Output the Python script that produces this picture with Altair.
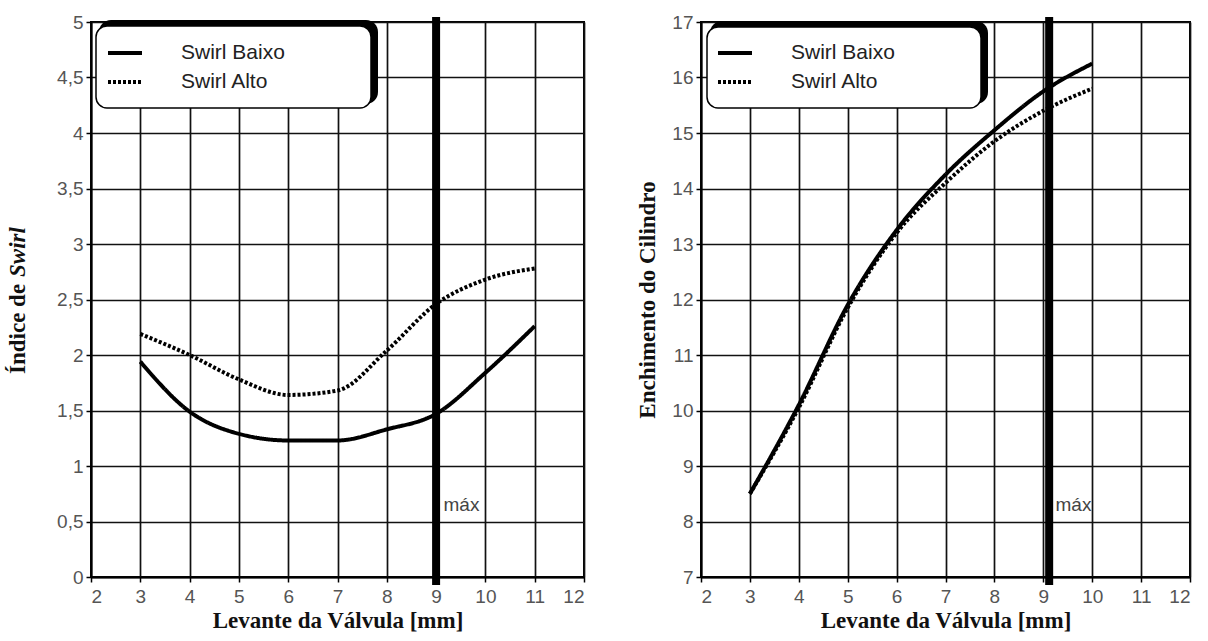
import altair as alt
import pandas as pd

# ---------------- data ----------------
series_names = ["Swirl Baixo", "Swirl Alto"]

lift_left = [3, 4, 5, 6, 7, 8, 9, 10, 11]
swirl_baixo = [1.94, 1.49, 1.29, 1.23, 1.23, 1.33, 1.47, 1.84, 2.26]
swirl_alto = [2.19, 2.00, 1.78, 1.64, 1.68, 2.04, 2.46, 2.68, 2.78]

lift_right = [3, 4, 5, 6, 7, 8, 9, 10]
ench_baixo = [8.5, 10.1, 11.9, 13.25, 14.25, 15.05, 15.75, 16.25]
ench_alto = [8.5, 10.05, 11.85, 13.2, 14.1, 14.85, 15.4, 15.8]

x_ticks = [2, 3, 4, 5, 6, 7, 8, 9, 10, 11, 12]
y_ticks_left = [0, 0.5, 1, 1.5, 2, 2.5, 3, 3.5, 4, 4.5, 5]
y_ticks_right = [7, 8, 9, 10, 11, 12, 13, 14, 15, 16, 17]

max_lift_left = [9.0]
max_lift_right = [9.12]
max_label = "máx"
max_label_left = [9.15, 0.65]
max_label_right = [9.25, 8.3]

x_title = "Levante da Válvula [mm]"
y_title_left_a = "Índice de"
y_title_left_b = "Swirl"
y_title_right = "Enchimento do Cilindro"

# ---------------- helpers ----------------
SERIF = "Liberation Serif"
SANS = "Liberation Sans"


def long_df(lift, a, b):
    rows = []
    for name, vals in zip(series_names, [a, b]):
        for x, v in zip(lift, vals):
            rows.append({"lift": x, "value": v, "serie": name})
    return pd.DataFrame(rows)


one = pd.DataFrame({"k": [0]})


def panel(df, ydom, yticks, ytitle, maxx, maxlab, W, H, box, shadow, comma, legx):
    xenc = alt.X(
        "lift:Q",
        scale=alt.Scale(domain=[2, 12], nice=False, zero=False),
        axis=alt.Axis(values=x_ticks, title=x_title, labelPadding=5, titlePadding=3,
                      format="d"),
    )
    yaxis_kw = dict(values=yticks, labelPadding=3)
    if comma:
        yaxis_kw["labelExpr"] = "replace(toString(datum.value), '.', ',')"
    if ytitle is None:
        yaxis_kw["title"] = None
    else:
        yaxis_kw["title"] = ytitle
        yaxis_kw["titlePadding"] = 12
    yenc = alt.Y(
        "value:Q",
        scale=alt.Scale(domain=ydom, nice=False, zero=False),
        axis=alt.Axis(**yaxis_kw),
    )

    shadow_rect = alt.Chart(one).mark_rect(cornerRadius=12, color="black").encode(
        x=alt.value(shadow[0]), x2=alt.value(shadow[1]),
        y=alt.value(shadow[2]), y2=alt.value(shadow[3]),
    )
    box_rect = alt.Chart(one).mark_rect(
        cornerRadius=11, fill="white", stroke="black", strokeWidth=1.5
    ).encode(
        x=alt.value(box[0]), x2=alt.value(box[1]),
        y=alt.value(box[2]), y2=alt.value(box[3]),
    )

    lines = alt.Chart(df).mark_line(
        interpolate="monotone", color="black", strokeWidth=4
    ).encode(
        x=xenc,
        y=yenc,
        detail="serie:N",
        strokeDash=alt.StrokeDash(
            "serie:N",
            scale=alt.Scale(domain=series_names, range=[[1, 0], [3, 2]]),
            legend=alt.Legend(
                title=None, orient="none", legendX=legx, legendY=12, padding=0,
                symbolType="stroke", symbolSize=1156, symbolStrokeWidth=4,
                symbolStrokeColor="black", labelFont=SANS, labelFontSize=21,
                labelColor="#222", labelOffset=37, rowPadding=0, labelLimit=400,
            ),
        ),
    )

    maxdf = pd.DataFrame({"lift": maxx})
    rule = alt.Chart(maxdf).mark_rule(color="black", strokeWidth=8).encode(
        x="lift:Q", y=alt.value(-5), y2=alt.value(H + 8)
    )
    labdf = pd.DataFrame({"lift": [maxlab[0]], "value": [maxlab[1]], "t": [max_label]})
    lab = alt.Chart(labdf).mark_text(
        align="left", baseline="middle", font=SANS, fontSize=19, color="#444"
    ).encode(x="lift:Q", y="value:Q", text="t:N")

    layers = [shadow_rect, box_rect, lines, rule, lab]
    return alt.layer(*layers).properties(width=W, height=H)


left_df = long_df(lift_left, swirl_baixo, swirl_alto)
right_df = long_df(lift_right, ench_baixo, ench_alto)

H = 555
left = panel(left_df, [0, 5], y_ticks_left, None, max_lift_left, max_label_left,
             493, H, box=(5, 280, 4, 86), shadow=(8, 287, -2, 82), comma=True, legx=15)

title_a = alt.Chart(one).mark_text(
    angle=270, align="left", baseline="middle", font=SERIF, fontWeight="bold",
    fontSize=23, color="#111"
).encode(x=alt.value(-73), y=alt.value(352), text=alt.value(y_title_left_a))
title_b = alt.Chart(one).mark_text(
    angle=270, align="left", baseline="middle", font=SERIF, fontWeight="bold",
    fontStyle="italic", fontSize=23, color="#111"
).encode(x=alt.value(-73), y=alt.value(255), text=alt.value(y_title_left_b))
left = alt.layer(left, title_a, title_b)

right = panel(right_df, [7, 17], y_ticks_right, y_title_right, max_lift_right,
              max_label_right, 489, H, box=(6, 280, 5, 86), shadow=(9, 287, -1, 82),
              comma=False, legx=15)

chart = alt.hconcat(left, right, spacing=49).resolve_scale(
    strokeDash="independent"
).resolve_legend(strokeDash="independent").properties(
    padding={"left": 6, "top": 12, "right": 2, "bottom": 2}
).configure(background="white").configure_view(
    stroke="black", strokeWidth=2
).configure_axis(
    grid=True, gridColor="#111", gridWidth=1.7, domainColor="black", domainWidth=2,
    tickColor="black", tickSize=5, tickWidth=1.5, labelFont=SANS, labelFontSize=19,
    labelColor="#555", titleFont=SERIF, titleFontWeight="bold", titleFontSize=23,
    titleColor="#111",
)

chart.save("out.html", embed_options={"renderer": "svg", "actions": False})
